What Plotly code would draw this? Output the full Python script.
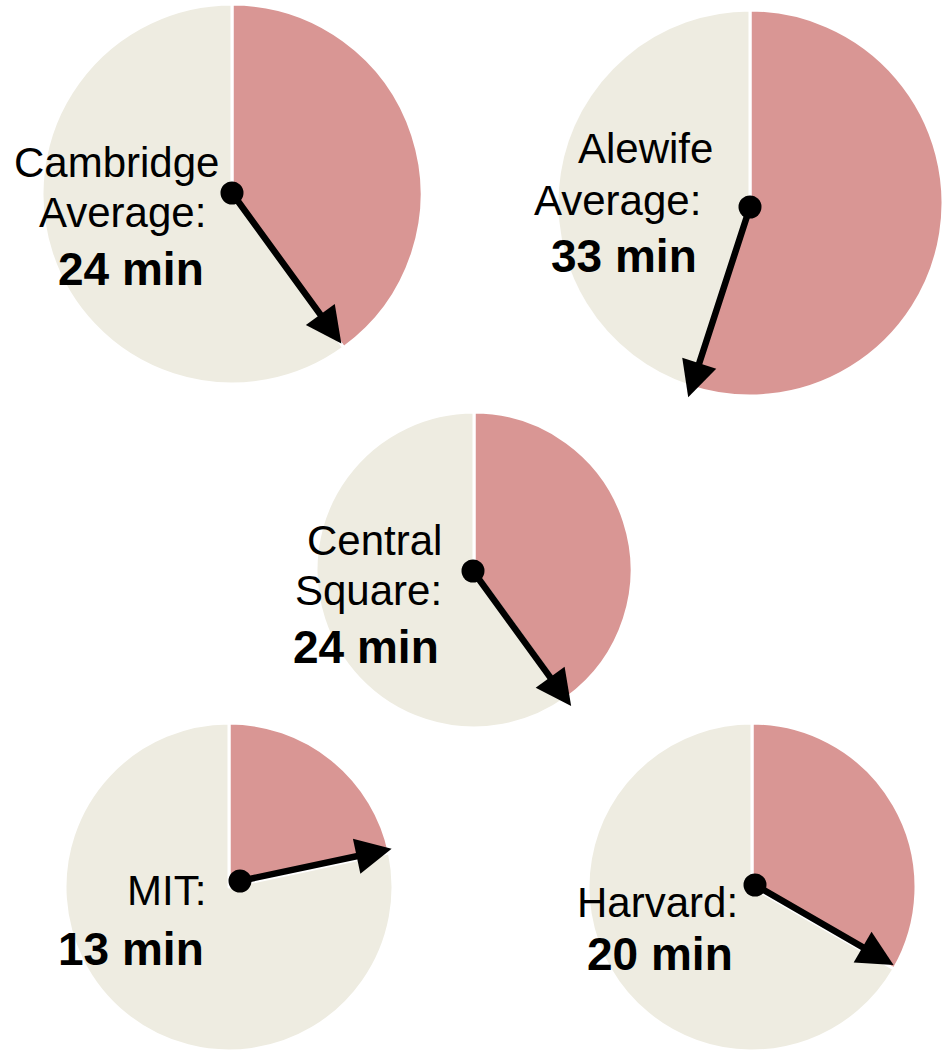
import math
import plotly.graph_objects as go

# ---- data ----
stations = ["Cambridge Average", "Alewife Average", "Central Square", "MIT", "Harvard"]
minutes = [24, 33, 24, 13, 20]
name_lines = [["Cambridge", "Average:"], ["Alewife", "Average:"], ["Central", "Square:"], ["MIT:"], ["Harvard:"]]
value_labels = [f"{m} min" for m in minutes]

# ---- layout / style (pixel positions on a 943x1052 canvas) ----
W, H = 943, 1052
pie_centers = [(232, 194), (750, 203), (474, 570), (229, 887), (752, 887)]
pie_radii = [190, 193, 158, 164, 164]
hub_offsets = [(0, -1), (0, 4), (-1, 1), (11, -6), (3, -2)]
hand_lengths = [186, 200, 167, 155, 160]
# (center x, baseline y) for each name line, then for the bold value line
name_pos = [[(116, 177), (122, 227)], [(645, 163), (617, 215)], [(374, 555), (368, 605)],
            [(166, 905)], [(657, 917)]]
value_pos = [(131, 285), (624, 272), (366, 663), (131, 965), (660, 970)]

RED = "#D99694"
BEIGE = "#EEECE1"
FONT = "Liberation Sans, Arial, sans-serif"
NAME_SIZE = 42
VALUE_SIZE = 46

fig = go.Figure()

for i, m in enumerate(minutes):
    cx, cy = pie_centers[i]
    r = pie_radii[i]
    fig.add_trace(go.Pie(
        values=[m, 60 - m],
        labels=[f"{stations[i]} wait", f"{stations[i]} rest"],
        sort=False,
        direction="clockwise",
        rotation=0,
        textinfo="none",
        hoverinfo="skip",
        showlegend=False,
        marker=dict(colors=[RED, BEIGE], line=dict(color="white", width=3)),
        domain=dict(x=[max(0, (cx - r) / W), min(1, (cx + r) / W)],
                    y=[max(0, 1 - (cy + r) / H), min(1, 1 - (cy - r) / H)]),
    ))

# invisible overlay axes in pixel units
fig.add_trace(go.Scatter(x=[0, W], y=[0, H], mode="markers", marker=dict(opacity=0),
                         hoverinfo="skip", showlegend=False))

annotations = []
shapes = []
for i, m in enumerate(minutes):
    cx, cy = pie_centers[i]
    hx, hy = cx + hub_offsets[i][0], cy + hub_offsets[i][1]
    theta = m / 60 * 2 * math.pi
    L = hand_lengths[i]
    tx, ty = hx + L * math.sin(theta), hy - L * math.cos(theta)
    annotations.append(dict(
        x=tx, y=ty, ax=hx, ay=hy, xref="x", yref="y", axref="x", ayref="y",
        text="", showarrow=True, arrowhead=2, arrowsize=1.1, arrowwidth=6.5,
        arrowcolor="black", standoff=0,
    ))
    dr = 11.5
    shapes.append(dict(type="circle", xref="x", yref="y", layer="above",
                       x0=hx - dr, x1=hx + dr, y0=hy - dr, y1=hy + dr,
                       fillcolor="black", line=dict(color="black", width=0)))
    for line, (px, py) in zip(name_lines[i], name_pos[i]):
        annotations.append(dict(
            x=px, y=py - 0.347 * NAME_SIZE, xref="x", yref="y", text=line, showarrow=False,
            xanchor="center", yanchor="middle",
            font=dict(family=FONT, size=NAME_SIZE, color="black"),
        ))
    px, py = value_pos[i]
    annotations.append(dict(
        x=px, y=py - 0.347 * VALUE_SIZE, xref="x", yref="y", text=f"<b>{value_labels[i]}</b>",
        showarrow=False, xanchor="center", yanchor="middle",
        font=dict(family=FONT, size=VALUE_SIZE, color="black"),
    ))

fig.update_layout(
    width=W, height=H,
    margin=dict(l=0, r=0, t=0, b=0),
    paper_bgcolor="white", plot_bgcolor="rgba(0,0,0,0)",
    xaxis=dict(range=[0, W], visible=False, fixedrange=True, domain=[0, 1]),
    yaxis=dict(range=[H, 0], visible=False, fixedrange=True, domain=[0, 1]),
    annotations=annotations,
    shapes=shapes,
    showlegend=False,
)

fig.write_html("out.html", config={"displayModeBar": False},
               post_script="document.body.style.margin='0';document.body.style.overflow='hidden';")
